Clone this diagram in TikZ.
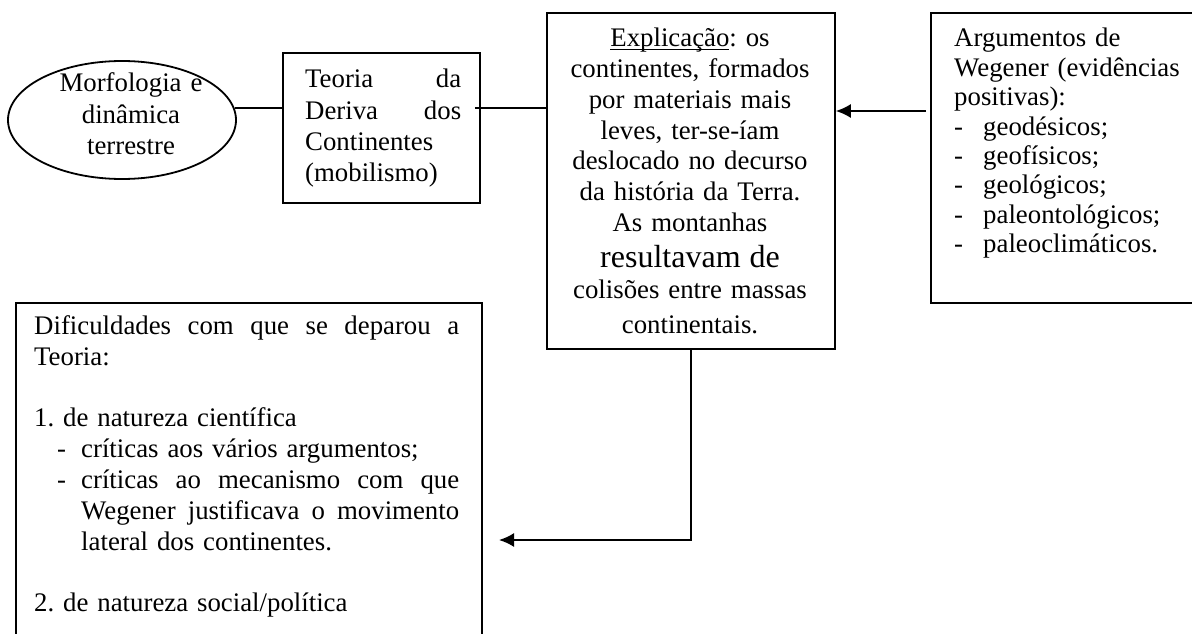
\documentclass[tikz,border=0pt]{standalone}
\usepackage{fontspec}
\setmainfont{Liberation Serif}
\usetikzlibrary{arrows.meta,shapes.geometric}
\newcommand\ulword[1]{\setbox0\hbox{#1}\rlap{\rule[-3.5pt]{\wd0}{1.2pt}}\box0}
\frenchspacing
\begin{document}
\begin{tikzpicture}[x=1pt,y=-1pt,
  frame/.style={draw,line width=1.8pt,rectangle,inner sep=0pt,anchor=north west},
  conn/.style={line width=1.8pt},
  arr/.style={line width=1.8pt,-{Latex[length=15pt,width=14pt]}},
  txt/.style={inner sep=0pt,font=\fontsize{26.8}{30.7}\selectfont\frenchspacing}]
\useasboundingbox (0,0) rectangle (1192,634);
\clip (0,0) rectangle (1192,634);

\node[ellipse,draw,line width=1.8pt,minimum width=228pt,minimum height=118pt,inner sep=0pt] (morf) at (122,120) {};
\node[txt,text width=180pt,align=center,anchor=base,font=\fontsize{26.8}{31.5}\selectfont] (morft) at (131,92) {Morfologia e\\dinâmica\\terrestre};

\node[frame,minimum width=197pt,minimum height=150pt] (teoria) at (282,52) {};
\node[txt,text width=156pt,align=left,anchor=base west,font=\fontsize{26.8}{31.3}\selectfont] (teoriat) at (305,88) {Teoria\hfill da\\Deriva\hfill dos\\Continentes\\(mobilismo)};

\node[frame,minimum width=288pt,minimum height=336pt] (expl) at (546,12) {};
\node[txt,text width=285pt,align=center,anchor=base] (explt) at (690,47) {\ulword{Explicação}: os\\continentes, formados\\por materiais mais\\leves, ter-se-íam\\deslocado no decurso\\da história da Terra.\\As montanhas\\[5.3pt]{\fontsize{32}{30.7}\selectfont resultavam de}\\[0.3pt]colisões entre massas\\[4.3pt]continentais.};

\node[frame,minimum width=300pt,minimum height=290pt] (argu) at (930,12) {};
\node[txt,text width=240pt,align=left,anchor=base west,font=\fontsize{26.8}{29.4}\selectfont] (argut) at (954,47) {Argumentos de\\Wegener (evidências\\positivas):\\\makebox[29pt][l]{-}geodésicos;\\\makebox[29pt][l]{-}geofísicos;\\\makebox[29pt][l]{-}geológicos;\\\makebox[29pt][l]{-}paleontológicos;\\\makebox[29pt][l]{-}paleoclimáticos.};

\node[frame,minimum width=466pt,minimum height=400pt] (difi) at (15,302) {};
\node[txt,text width=425pt,align=left,anchor=base west,font=\fontsize{26.8}{30.8}\selectfont] (difit) at (34,334.5) {Dificuldades\hfill com\hfill que\hfill se\hfill deparou\hfill a\\Teoria:\\[30.8pt]1. de natureza científica\\\hspace*{23pt}\makebox[24pt][l]{-}críticas aos vários argumentos;\\\hspace*{23pt}\makebox[24pt][l]{-}críticas\hfill ao\hfill mecanismo\hfill com\hfill que\\\hspace*{47pt}Wegener\hfill justificava\hfill o\hfill movimento\\\hspace*{47pt}lateral dos continentes.\\[30.8pt]2. de natureza social/política};

\coordinate (r1) at (0,108);
\coordinate (r2) at (0,111);
\coordinate (tipB) at (499,540);
\draw[conn] (morf.6) -- (morf.6 -| teoria.west);
\draw[conn] (teoria.east |- r1) ++(-6,0) -- (expl.west |- r1);
\draw[arr] (argu.west |- r2) ++(-4,0) -- (expl.east |- r2);
\draw[arr] (expl.south) |- (tipB);
\end{tikzpicture}
\end{document}
